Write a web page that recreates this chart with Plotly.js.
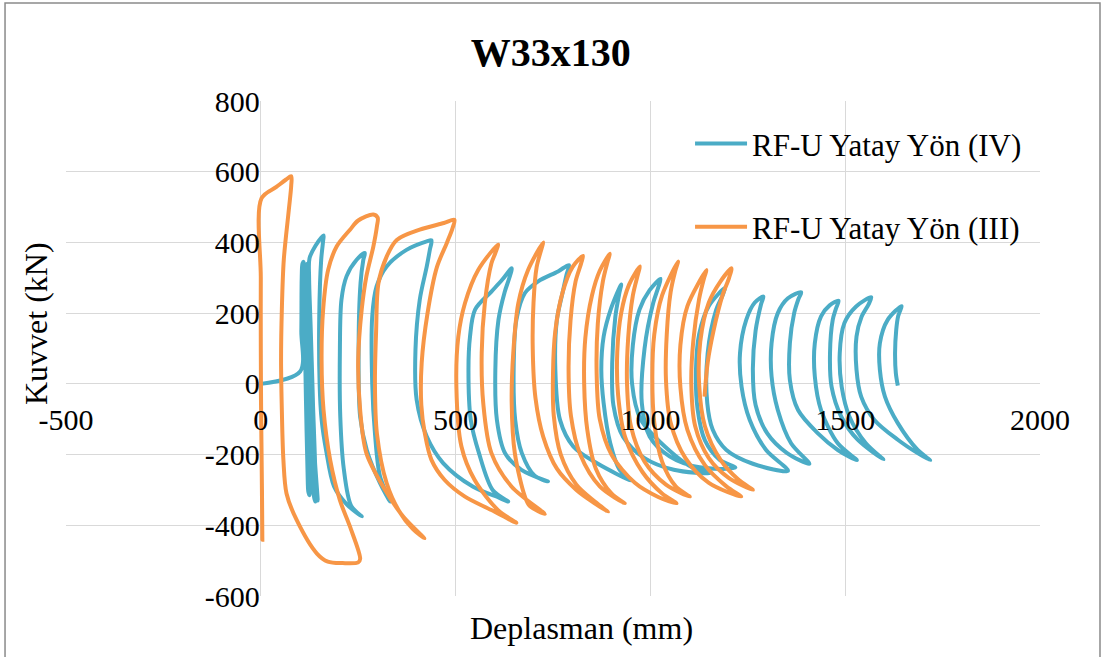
<!DOCTYPE html>
<html><head><meta charset="utf-8">
<script src="https://cdn.plot.ly/plotly-3.0.1.min.js"></script>
<style>html,body{margin:0;padding:0;background:#fff;} #chart{width:1106px;height:657px;}</style>
</head><body><div id="chart"></div>
<script>
// ---- Data ----
const chartTitle = 'W33x130';
const xAxisTitle = 'Deplasman (mm)';
const yAxisTitle = 'Kuvvet (kN)';
const seriesNames = ['RF-U Yatay Yön (IV)', 'RF-U Yatay Yön (III)'];
const xTicks = [-500, 0, 500, 1000, 1500, 2000];
const xTickText = ['-500', '0', '500', '1000', '1500', '2000'];
const yTicks = [-600, -400, -200, 0, 200, 400, 600, 800];
const yTickText = ['-600', '-400', '-200', '0', '200', '400', '600', '800'];

// Series IV (blue): displacement (mm)
const ivX = [
  0, 101,
  104, 105, 107, 110, 112, 113, 116, 120, 122, 125, 126, 122, 118, 116, 118, 121, 123, 126, 130, 134, 137, 140,
  141, 136, 129, 122, 119, 120, 122, 126, 131, 137, 142, 145, 146,
  138, 133, 128, 124, 125, 140, 161,
  160, 155, 150, 151, 156, 168, 188, 220, 259,
  232, 213, 204, 203, 207, 220, 246, 267,
  263, 256, 251, 255, 272, 306, 332,
  306, 293, 286, 286, 297, 323, 374, 426, 438,
  434, 426, 408, 397, 400, 426, 468, 545, 614, 635,
  595, 560, 539, 533, 537, 550, 592, 620, 644,
  638, 626, 610, 602, 606, 627, 669, 737,
  703, 670, 653, 649, 656, 678, 712, 763, 791,
  785, 775, 760, 756, 768, 802, 862, 951,
  921, 897, 880, 874, 880, 898, 925,
  920, 910, 902, 905, 930, 985, 1060, 1152,
  1110, 1050, 975, 953, 955, 972, 998, 1026,
  1020, 1007, 985, 978, 998, 1049, 1126, 1218,
  1178, 1140, 1121, 1117, 1125, 1150, 1192,
  1185, 1169, 1147, 1146, 1160, 1195, 1263, 1353,
  1297, 1255, 1234, 1230, 1246, 1268, 1290,
  1284, 1270, 1263, 1270, 1300, 1350, 1408,
  1361, 1327, 1311, 1311, 1327, 1353, 1387,
  1380, 1369, 1358, 1358, 1379, 1430, 1481, 1530,
  1481, 1438, 1422, 1422, 1438, 1460, 1483,
  1476, 1468, 1461, 1465, 1490, 1532, 1598,
  1553, 1511, 1491, 1486, 1498, 1528, 1567,
  1560, 1542, 1529, 1529, 1541, 1575, 1635, 1686, 1718,
  1686, 1635, 1602, 1589, 1589, 1609, 1645,
  1636, 1631, 1628, 1630, 1635
];
// Series IV (blue): force (kN)
const ivY = [
  0, 35,
  150, 300, 340, 345, 320, 150, -50, -250, -305, -315, -290, -100, 100, 280, 335, 340, 310, 100, -100, -280, -322, -333,
  -300, -120, 80, 260, 320, 338, 330, 180, -20, -200, -300, -325, -330,
  -200, -20, 160, 300, 355, 390, 420,
  405, 351, 190, 0, -100, -190, -290, -340, -375,
  -345, -240, -93, 96, 238, 304, 351, 370,
  350, 285, 96, -93, -187, -281, -333,
  -262, -140, 0, 190, 275, 332, 379, 403, 406,
  380, 332, 238, 96, -45, -149, -224, -291, -323, -333,
  -300, -196, -102, 40, 134, 210, 261, 295, 327,
  300, 260, 181, 40, -102, -196, -243, -276,
  -260, -196, -102, 40, 181, 257, 290, 318, 336,
  310, 260, 181, 40, -102, -177, -224, -273,
  -243, -168, -55, 40, 134, 210, 281,
  255, 190, 60, -60, -150, -210, -243, -253,
  -238, -190, -100, 0, 110, 210, 265, 297,
  272, 228, 100, -55, -149, -205, -236, -237,
  -215, -160, -70, 40, 140, 220, 272,
  250, 210, 87, -55, -130, -187, -226, -246,
  -187, -102, -8, 87, 181, 230, 247,
  225, 150, 40, -60, -140, -195, -226,
  -168, -74, 21, 115, 200, 242, 259,
  240, 200, 115, 11, -74, -140, -187, -216,
  -168, -74, 21, 115, 191, 222, 235,
  212, 181, 87, -8, -93, -158, -214,
  -168, -93, -8, 87, 172, 219, 245,
  225, 190, 134, 40, -36, -102, -158, -196, -216,
  -187, -111, -36, 40, 115, 181, 220,
  192, 153, 87, 30, -5
];

// Series III (orange): displacement (mm)
const iiiX = [
  0, 2, 4, 3, 1, 0, 0, 2,
  40, 65, 78,
  78, 72, 59, 54, 52, 54, 58, 66, 92, 144, 172, 210, 250, 255,
  229, 203, 178, 161, 156, 160, 173, 195, 229, 250, 289, 300,
  298, 289, 271, 259, 250, 255, 271, 314, 366, 420,
  390, 355, 323, 298, 293, 296, 302, 323, 349, 408, 470, 497,
  492, 478, 452, 428, 413, 412, 421, 438, 472, 524, 592, 656,
  609, 549, 515, 502, 507, 524, 558, 609,
  602, 592, 575, 567, 571, 592, 644, 729,
  690, 678, 652, 644, 648, 661, 686, 725,
  720, 708, 700, 698, 705, 725, 760, 810, 860, 891,
  860, 810, 770, 752, 750, 756, 775, 800, 827,
  822, 808, 795, 790, 796, 820, 870, 934,
  900, 860, 838, 830, 833, 850, 870, 896,
  890, 878, 865, 862, 870, 900, 960, 1020, 1067,
  1030, 980, 935, 917, 915, 925, 945, 973,
  968, 955, 943, 940, 950, 985, 1040, 1101,
  1065, 1030, 1010, 1005, 1010, 1030, 1071,
  1064, 1052, 1042, 1040, 1052, 1090, 1150, 1233,
  1195, 1140, 1095, 1077, 1077, 1095, 1144,
  1138, 1125, 1110, 1105, 1115, 1150, 1200, 1263,
  1225, 1180, 1140, 1125, 1128, 1150, 1180, 1208,
  1202, 1185, 1162, 1147, 1139
];
// Series III (orange): force (kN)
const iiiY = [
  0, -200, -441, -300, -100, 100, 300, 525,
  557, 578, 587,
  560, 493, 351, 210, 68, -74, -215, -310, -385, -480, -503, -507, -505, -495,
  -404, -329, -215, -74, 68, 210, 323, 389, 436, 462, 479, 470,
  445, 389, 304, 210, 68, -74, -196, -291, -376, -437,
  -410, -360, -281, -140, 0, 150, 285, 360, 407, 436, 455, 464,
  440, 400, 330, 200, 60, -60, -140, -215, -272, -319, -357, -393,
  -357, -272, -177, -8, 134, 228, 322, 394,
  370, 341, 228, 87, -55, -196, -291, -368,
  -345, -319, -196, -55, 87, 228, 322, 400,
  380, 330, 230, 100, -40, -150, -240, -300, -340, -362,
  -335, -285, -200, -90, 30, 150, 260, 330, 362,
  340, 290, 180, 40, -90, -200, -290, -338,
  -310, -240, -130, 0, 130, 250, 320, 368,
  345, 290, 170, 30, -100, -200, -280, -320, -338,
  -310, -250, -150, -30, 90, 200, 280, 332,
  310, 250, 130, 0, -120, -220, -285, -319,
  -290, -220, -110, 20, 140, 250, 346,
  320, 260, 140, 10, -110, -210, -280, -319,
  -290, -230, -130, -10, 110, 220, 322,
  300, 240, 120, 0, -120, -210, -265, -300,
  -270, -215, -120, 0, 120, 230, 290, 327,
  300, 250, 150, 60, -36
];

// ---- Chart ----
const FONT = 'Liberation Serif, Times New Roman, Tinos, DejaVu Serif, Noto Serif, serif';
const data = [
  {x: ivX, y: ivY, type: 'scatter', mode: 'lines', name: seriesNames[0], legendgroup: 'iv',
   line: {color: '#4BACC6', width: 4, shape: 'spline', smoothing: 0.9}},
  {x: iiiX, y: iiiY, type: 'scatter', mode: 'lines', name: seriesNames[1], legendgroup: 'iii',
   line: {color: '#F79646', width: 4, shape: 'spline', smoothing: 0.9}}
];

const layout = {
  width: 1106, height: 657,
  margin: {l: 66, r: 66, t: 101, b: 61},
  paper_bgcolor: '#ffffff', plot_bgcolor: '#ffffff',
  font: {family: FONT, color: '#000000', size: 30},
  title: {text: '<b>' + chartTitle + '</b>', font: {family: FONT, size: 40, color: '#000'},
          x: 0.498, xref: 'container', xanchor: 'center', y: 0.921, yref: 'container', yanchor: 'middle'},
  xaxis: {range: [-500, 2000], tickvals: xTicks, ticktext: xTickText, showgrid: true, gridcolor: '#d9d9d9', gridwidth: 1,
          zeroline: false, showline: false, anchor: 'free', position: 600/1400,
          ticks: 'outside', ticklen: 9, tickcolor: 'rgba(0,0,0,0)',
          tickfont: {family: FONT, size: 30, color: '#000'}},
  yaxis: {range: [-600, 800], tickvals: yTicks, ticktext: yTickText, showgrid: true, gridcolor: '#d9d9d9', gridwidth: 1,
          zeroline: false, showline: false, anchor: 'free', position: 0.2,
          ticks: '', ticklabelstandoff: 1,
          tickfont: {family: FONT, size: 30, color: '#000'}},
  showlegend: true,
  legend: {x: 0.6407, y: 0.968, xanchor: 'left', yanchor: 'top', bgcolor: 'rgba(0,0,0,0)',
           font: {family: FONT, size: 31, color: '#000'}, traceorder: 'grouped', tracegroupgap: 40,
           itemwidth: 52},
  annotations: [
    {text: xAxisTitle, xref: 'paper', yref: 'paper', x: 0.529, y: -0.0646, xanchor: 'center', yanchor: 'middle',
     showarrow: false, font: {family: FONT, size: 32, color: '#000'}},
    {text: yAxisTitle, xref: 'paper', yref: 'paper', x: -0.0308, y: 0.5495, xanchor: 'center', yanchor: 'middle',
     textangle: -90, showarrow: false, font: {family: FONT, size: 32, color: '#000'}}
  ],
  shapes: [
    {type: 'rect', xref: 'paper', yref: 'paper', x0: -0.0626, x1: 1.0616, y0: -0.13, y1: 1.198,
     line: {color: '#8a8a8a', width: 1.5}, fillcolor: 'rgba(0,0,0,0)'}
  ]
};

Plotly.newPlot('chart', data, layout, {staticPlot: true, displayModeBar: false});
</script></body></html>
